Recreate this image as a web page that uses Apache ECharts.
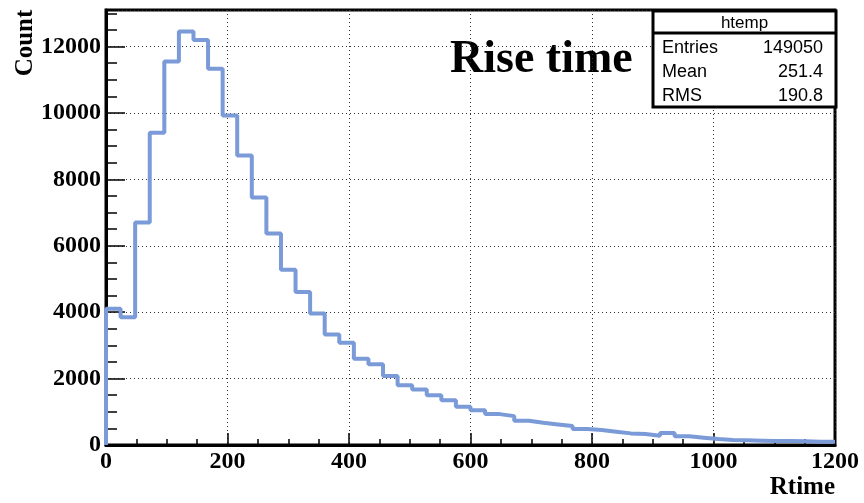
<!DOCTYPE html>
<html>
<head>
<meta charset="utf-8">
<title>Rise time</title>
<script src="https://cdn.jsdelivr.net/npm/echarts@6/dist/echarts.min.js"></script>
<style>
  html, body { margin: 0; padding: 0; background: #fff; }
  #chart { width: 864px; height: 503px; }
</style>
</head>
<body>
<div id="chart"></div>
<script>
// histogram: 50 bins of width 24 from 0 to 1200
const binStart = 0
const binWidth = 24
const counts = [
  4100, 3850, 6700, 9400, 11550, 12450, 12200, 11330, 9920, 8720,
  7450, 6370, 5280, 4610, 3960, 3330, 3080, 2600, 2430, 2080,
  1800, 1675, 1500, 1350, 1150, 1050, 930, 870, 730, 670,
  620, 570, 480, 450, 400, 350, 330, 280, 360, 260,
  220, 180, 150, 140, 130, 120, 120, 110, 100, 100
]
const xTicks = [0, 200, 400, 600, 800, 1000, 1200]
const yTicks = [0, 2000, 4000, 6000, 8000, 10000, 12000]
// stats box
const statName = 'htemp'
const statLabels = ['Entries', 'Mean', 'RMS']
const statValues = ['149050', '251.4', '190.8']

const chart = echarts.init(document.getElementById('chart'))

// step outline points: left edge of every bin, then the last right edge
const steps = [[binStart, 0]]
counts.forEach((c, i) => steps.push([binStart + i * binWidth, c]))
steps.push([binStart + counts.length * binWidth, counts[counts.length - 1]])

const serif = 'Liberation Serif'
const sans = 'Liberation Sans'
const dotted = { show: true, lineStyle: { color: '#333', type: [1, 3], width: 1 } }
const plain = (v) => String(v)

// stats box graphics
const boxL = 653, boxR = 836, boxT = 11, boxB = 107, headB = 33
const statGraphics = [
  { type: 'rect', shape: { x: boxL, y: boxT, width: boxR - boxL, height: boxB - boxT },
    style: { fill: '#fff', stroke: '#000', lineWidth: 3 }, z: 10 },
  { type: 'line', shape: { x1: boxL, y1: headB, x2: boxR, y2: headB },
    style: { stroke: '#000', lineWidth: 3 }, z: 11 },
  { type: 'text', x: (boxL + boxR) / 2, y: (boxT + headB) / 2 + 1, z: 11,
    style: { text: statName, font: '17px ' + sans, fill: '#000', align: 'center', verticalAlign: 'middle' } }
]
statLabels.forEach((t, i) => {
  const y = 48 + i * 24
  statGraphics.push({ type: 'text', x: boxL + 9, y: y, z: 11,
    style: { text: t, font: '18px ' + sans, fill: '#000', align: 'left', verticalAlign: 'middle' } })
  statGraphics.push({ type: 'text', x: boxR - 13, y: y, z: 11,
    style: { text: statValues[i], font: '18px ' + sans, fill: '#000', align: 'right', verticalAlign: 'middle' } })
})

const option = {
  animation: false,
  grid: {
    left: 106, right: 29, top: 10, bottom: 58,
    show: true, borderColor: '#000', borderWidth: 3
  },
  xAxis: {
    type: 'value',
    min: xTicks[0], max: xTicks[xTicks.length - 1], interval: xTicks[1] - xTicks[0],
    name: 'Rtime', nameLocation: 'end', nameGap: 0,
    nameTextStyle: { fontFamily: serif, fontWeight: 'bold', fontSize: 25, color: '#000',
      align: 'right', verticalAlign: 'top', padding: [30, 0, 0, 0] },
    axisLine: { show: true, lineStyle: { color: '#000', width: 3 } },
    axisTick: { show: true, inside: true, length: 12, lineStyle: { color: '#000', width: 1.5 } },
    minorTick: { show: true, splitNumber: 4, length: 6, lineStyle: { color: '#000', width: 1.5 } },
    axisLabel: { fontFamily: serif, fontWeight: 'bold', fontSize: 24, color: '#000', margin: 5, formatter: plain },
    splitLine: dotted
  },
  yAxis: [
    {
      type: 'value', position: 'left',
      min: yTicks[0], max: 13100, interval: yTicks[1] - yTicks[0],
      axisLine: { show: true, lineStyle: { color: '#000', width: 3 } },
      axisTick: { show: true, inside: true, length: 19, lineStyle: { color: '#000', width: 1.5 } },
      axisLabel: { fontFamily: serif, fontWeight: 'bold', fontSize: 24, color: '#000', margin: 5,
        showMaxLabel: false, formatter: plain },
      splitLine: dotted
    },
    {
      type: 'value', position: 'left',
      min: yTicks[0], max: 13100, interval: (yTicks[1] - yTicks[0]) / 4,
      axisLine: { show: false },
      axisTick: { show: true, inside: true, length: 11, lineStyle: { color: '#000', width: 1.5 } },
      axisLabel: { show: false },
      splitLine: { show: false }
    }
  ],
  series: [{
    type: 'line',
    step: 'end',
    data: steps,
    showSymbol: false,
    lineStyle: { color: '#7a9ad8', width: 4 },
    z: 3
  }],
  graphic: [
    { type: 'text', x: 26, y: 43, rotation: Math.PI / 2,
      style: { text: 'Count', font: 'bold 25px ' + serif, fill: '#000', align: 'center', verticalAlign: 'middle' } },
    { type: 'text', x: 450, y: 60,
      style: { text: 'Rise time', font: 'bold 46px ' + serif, fill: '#000', align: 'left', verticalAlign: 'middle' } }
  ].concat(statGraphics)
}

chart.setOption(option)
</script>
</body>
</html>
